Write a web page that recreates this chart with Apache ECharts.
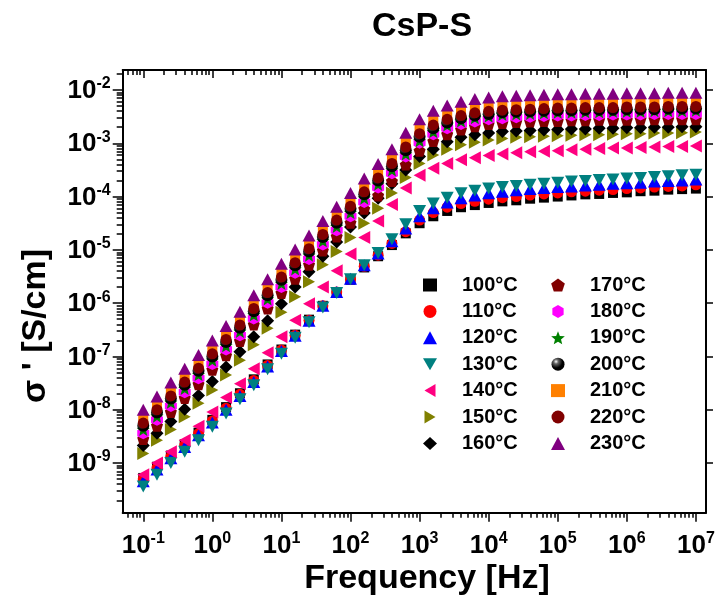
<!DOCTYPE html>
<html>
<head>
<meta charset="utf-8">
<script src="https://cdn.jsdelivr.net/npm/echarts@6/dist/echarts.min.js"></script>
<style>html,body{margin:0;padding:0;background:#fff}#chart{width:715px;height:602px}</style>
</head>
<body>
<div id="chart"></div>
<script>
// ---- data ----
const frequencyHz = [0.1, 0.158, 0.251, 0.398, 0.631, 1, 1.58, 2.51, 3.98, 6.31, 10, 15.8, 25.1, 39.8, 63.1, 100, 158, 251, 398, 631, 1000, 1580, 2510, 3980, 6310, 10000, 15800, 25100, 39800, 63100, 100000, 158000, 251000, 398000, 631000, 1000000, 1580000, 2510000, 3980000, 6310000, 10000000];
const temperatures = ['100°C','110°C','120°C','130°C','140°C','150°C','160°C','170°C','180°C','190°C','200°C','210°C','220°C','230°C'];
const sigma100 = [5.25e-10, 8.51e-10, 1.38e-9, 2.24e-9, 3.72e-9, 6.46e-9, 1.12e-8, 2.04e-8, 3.72e-8, 7.08e-8, 1.35e-7, 2.57e-7, 4.90e-7, 8.91e-7, 1.58e-6, 2.75e-6, 4.68e-6, 7.59e-6, 1.23e-5, 2.04e-5, 3.16e-5, 4.27e-5, 5.37e-5, 6.31e-5, 6.92e-5, 7.59e-5, 8.13e-5, 8.51e-5, 9.12e-5, 9.55e-5, 1.00e-4, 1.05e-4, 1.10e-4, 1.12e-4, 1.17e-4, 1.20e-4, 1.26e-4, 1.29e-4, 1.35e-4, 1.38e-4, 1.41e-4];
const sigma110 = [5.01e-10, 8.13e-10, 1.32e-9, 2.14e-9, 3.55e-9, 6.17e-9, 1.07e-8, 1.95e-8, 3.55e-8, 6.76e-8, 1.32e-7, 2.51e-7, 4.79e-7, 8.91e-7, 1.62e-6, 2.82e-6, 4.90e-6, 7.94e-6, 1.32e-5, 2.19e-5, 3.63e-5, 5.01e-5, 6.31e-5, 7.41e-5, 8.13e-5, 8.91e-5, 9.55e-5, 1.00e-4, 1.07e-4, 1.12e-4, 1.17e-4, 1.23e-4, 1.26e-4, 1.32e-4, 1.35e-4, 1.41e-4, 1.45e-4, 1.51e-4, 1.55e-4, 1.58e-4, 1.66e-4];
const sigma120 = [4.57e-10, 7.59e-10, 1.23e-9, 2.00e-9, 3.31e-9, 5.75e-9, 1.00e-8, 1.82e-8, 3.31e-8, 6.46e-8, 1.26e-7, 2.45e-7, 4.68e-7, 8.91e-7, 1.62e-6, 2.88e-6, 5.13e-6, 8.51e-6, 1.45e-5, 2.51e-5, 4.27e-5, 6.03e-5, 7.76e-5, 9.33e-5, 1.05e-4, 1.15e-4, 1.23e-4, 1.32e-4, 1.38e-4, 1.45e-4, 1.51e-4, 1.55e-4, 1.62e-4, 1.66e-4, 1.74e-4, 1.78e-4, 1.82e-4, 1.91e-4, 1.95e-4, 2.00e-4, 2.09e-4];
const sigma130 = [3.63e-10, 6.03e-10, 1.00e-9, 1.62e-9, 2.69e-9, 4.79e-9, 8.51e-9, 1.58e-8, 2.88e-8, 5.75e-8, 1.12e-7, 2.24e-7, 4.37e-7, 8.32e-7, 1.55e-6, 2.82e-6, 5.13e-6, 8.71e-6, 1.58e-5, 3.02e-5, 5.37e-5, 7.41e-5, 9.55e-5, 1.15e-4, 1.29e-4, 1.41e-4, 1.51e-4, 1.58e-4, 1.66e-4, 1.74e-4, 1.82e-4, 1.91e-4, 1.95e-4, 2.04e-4, 2.09e-4, 2.19e-4, 2.24e-4, 2.34e-4, 2.40e-4, 2.51e-4, 2.57e-4];
const sigma140 = [6.03e-10, 1.00e-9, 1.62e-9, 2.69e-9, 4.90e-9, 9.12e-9, 1.70e-8, 3.09e-8, 5.89e-8, 1.17e-7, 2.34e-7, 4.79e-7, 9.77e-7, 2.00e-6, 4.07e-6, 8.32e-6, 1.70e-5, 3.47e-5, 7.08e-5, 1.45e-4, 2.51e-4, 3.39e-4, 4.17e-4, 4.90e-4, 5.37e-4, 5.89e-4, 6.31e-4, 6.61e-4, 6.92e-4, 7.08e-4, 7.24e-4, 7.59e-4, 7.76e-4, 7.94e-4, 8.13e-4, 8.13e-4, 8.32e-4, 8.51e-4, 8.71e-4, 8.71e-4, 8.91e-4];
const sigma150 = [1.51e-9, 2.69e-9, 4.27e-9, 7.41e-9, 1.32e-8, 2.34e-8, 4.47e-8, 8.51e-8, 1.66e-7, 3.39e-7, 6.76e-7, 1.32e-6, 2.51e-6, 5.25e-6, 9.33e-6, 1.70e-5, 3.16e-5, 6.03e-5, 1.17e-4, 2.29e-4, 4.17e-4, 6.03e-4, 7.76e-4, 9.33e-4, 1.05e-3, 1.15e-3, 1.23e-3, 1.29e-3, 1.32e-3, 1.35e-3, 1.38e-3, 1.41e-3, 1.45e-3, 1.45e-3, 1.48e-3, 1.51e-3, 1.51e-3, 1.55e-3, 1.55e-3, 1.58e-3, 1.62e-3];
const sigma160 = [2.14e-9, 3.63e-9, 6.03e-9, 1.02e-8, 1.86e-8, 3.39e-8, 6.31e-8, 1.23e-7, 2.34e-7, 4.68e-7, 9.77e-7, 2.00e-6, 3.89e-6, 7.59e-6, 1.41e-5, 2.69e-5, 4.90e-5, 9.33e-5, 1.74e-4, 3.16e-4, 5.62e-4, 7.76e-4, 1.07e-3, 1.29e-3, 1.45e-3, 1.55e-3, 1.66e-3, 1.70e-3, 1.74e-3, 1.78e-3, 1.82e-3, 1.86e-3, 1.86e-3, 1.91e-3, 1.91e-3, 1.95e-3, 1.95e-3, 2.00e-3, 2.00e-3, 2.04e-3, 2.04e-3];
const sigma170 = [2.82e-9, 5.01e-9, 9.12e-9, 1.66e-8, 3.02e-8, 5.62e-8, 1.05e-7, 1.95e-7, 3.98e-7, 7.94e-7, 1.55e-6, 2.88e-6, 5.25e-6, 9.77e-6, 1.78e-5, 3.24e-5, 5.89e-5, 1.05e-4, 1.95e-4, 3.98e-4, 7.24e-4, 1.10e-3, 1.48e-3, 1.82e-3, 2.09e-3, 2.29e-3, 2.40e-3, 2.51e-3, 2.57e-3, 2.63e-3, 2.63e-3, 2.69e-3, 2.69e-3, 2.75e-3, 2.75e-3, 2.75e-3, 2.82e-3, 2.82e-3, 2.82e-3, 2.82e-3, 2.82e-3];
const sigma180 = [3.63e-9, 6.46e-9, 1.17e-8, 2.14e-8, 3.89e-8, 7.24e-8, 1.35e-7, 2.51e-7, 5.13e-7, 1.02e-6, 2.00e-6, 3.72e-6, 6.76e-6, 1.26e-5, 2.34e-5, 4.27e-5, 7.94e-5, 1.48e-4, 2.75e-4, 5.62e-4, 1.02e-3, 1.48e-3, 1.91e-3, 2.29e-3, 2.57e-3, 2.82e-3, 2.95e-3, 3.09e-3, 3.16e-3, 3.24e-3, 3.31e-3, 3.31e-3, 3.39e-3, 3.39e-3, 3.47e-3, 3.47e-3, 3.47e-3, 3.55e-3, 3.55e-3, 3.55e-3, 3.55e-3];
const sigma190 = [4.27e-9, 7.59e-9, 1.38e-8, 2.51e-8, 4.57e-8, 8.51e-8, 1.58e-7, 2.95e-7, 6.03e-7, 1.20e-6, 2.34e-6, 4.37e-6, 7.94e-6, 1.48e-5, 2.75e-5, 5.01e-5, 9.33e-5, 1.70e-4, 3.16e-4, 6.31e-4, 1.12e-3, 1.66e-3, 2.19e-3, 2.63e-3, 3.02e-3, 3.24e-3, 3.47e-3, 3.55e-3, 3.63e-3, 3.72e-3, 3.80e-3, 3.80e-3, 3.89e-3, 3.89e-3, 3.98e-3, 3.98e-3, 3.98e-3, 4.07e-3, 4.07e-3, 4.07e-3, 4.17e-3];
const sigma200 = [5.01e-9, 8.91e-9, 1.62e-8, 2.95e-8, 5.37e-8, 1.00e-7, 1.86e-7, 3.47e-7, 7.08e-7, 1.41e-6, 2.75e-6, 5.13e-6, 9.33e-6, 1.74e-5, 3.24e-5, 5.89e-5, 1.10e-4, 2.00e-4, 3.72e-4, 7.41e-4, 1.32e-3, 1.91e-3, 2.45e-3, 2.95e-3, 3.31e-3, 3.55e-3, 3.80e-3, 3.89e-3, 3.98e-3, 4.07e-3, 4.17e-3, 4.17e-3, 4.27e-3, 4.27e-3, 4.27e-3, 4.37e-3, 4.37e-3, 4.37e-3, 4.47e-3, 4.47e-3, 4.47e-3];
const sigma210 = [6.76e-9, 1.20e-8, 2.19e-8, 3.98e-8, 7.24e-8, 1.35e-7, 2.51e-7, 4.68e-7, 9.55e-7, 1.91e-6, 3.72e-6, 6.92e-6, 1.26e-5, 2.34e-5, 4.37e-5, 7.94e-5, 1.48e-4, 2.75e-4, 5.13e-4, 1.02e-3, 1.82e-3, 2.69e-3, 3.47e-3, 4.07e-3, 4.57e-3, 4.90e-3, 5.13e-3, 5.25e-3, 5.37e-3, 5.50e-3, 5.62e-3, 5.62e-3, 5.75e-3, 5.75e-3, 5.75e-3, 5.89e-3, 5.89e-3, 5.89e-3, 6.03e-3, 6.03e-3, 6.03e-3];
const sigma220 = [5.62e-9, 1.00e-8, 1.82e-8, 3.31e-8, 6.03e-8, 1.12e-7, 2.09e-7, 3.89e-7, 7.94e-7, 1.58e-6, 3.09e-6, 5.75e-6, 1.05e-5, 1.95e-5, 3.63e-5, 6.61e-5, 1.23e-4, 2.24e-4, 4.17e-4, 8.51e-4, 1.51e-3, 2.19e-3, 2.82e-3, 3.31e-3, 3.72e-3, 3.98e-3, 4.17e-3, 4.27e-3, 4.37e-3, 4.47e-3, 4.57e-3, 4.57e-3, 4.68e-3, 4.68e-3, 4.68e-3, 4.79e-3, 4.79e-3, 4.79e-3, 4.90e-3, 4.90e-3, 4.90e-3];
const sigma230 = [1.00e-8, 1.78e-8, 3.24e-8, 5.89e-8, 1.07e-7, 2.00e-7, 3.72e-7, 6.92e-7, 1.41e-6, 2.82e-6, 5.50e-6, 1.02e-5, 1.86e-5, 3.47e-5, 6.46e-5, 1.17e-4, 2.19e-4, 4.07e-4, 7.76e-4, 1.58e-3, 2.82e-3, 4.07e-3, 5.13e-3, 6.03e-3, 6.76e-3, 7.24e-3, 7.59e-3, 7.76e-3, 7.94e-3, 8.13e-3, 8.32e-3, 8.32e-3, 8.51e-3, 8.51e-3, 8.51e-3, 8.71e-3, 8.71e-3, 8.71e-3, 8.91e-3, 8.91e-3, 8.91e-3];
const xTickValues = [0.1, 1, 10, 100, 1e3, 1e4, 1e5, 1e6, 1e7];
const yTickValues = [1e-9, 1e-8, 1e-7, 1e-6, 1e-5, 1e-4, 1e-3, 1e-2];
const chartTitle = 'CsP-S';
const xAxisTitle = 'Frequency [Hz]';
const yAxisTitle = "σ ' [S/cm]";

// ---- presentation ----
const FONT = '"Liberation Sans", Arial, sans-serif';
const X_MIN = 0.0504, X_MAX = 1.40e7, Y_MIN = 1.17e-10, Y_MAX = 2.37e-2;

function minorTicks(lo, hi) {
  const out = [];
  for (let n = Math.floor(Math.log10(lo)); n <= Math.ceil(Math.log10(hi)); n++) {
    for (let m = 2; m <= 9; m++) {
      const v = Number((m * Math.pow(10, n)).toPrecision(3));
      if (v > lo && v < hi) out.push(v);
    }
  }
  return out;
}
const xMinor = minorTicks(X_MIN, X_MAX);
const yMinor = minorTicks(Y_MIN, Y_MAX);

const sup = v => '{b|10}{s|' + Math.round(Math.log10(v)) + '}';
const rich = {
  b: {fontFamily: FONT, fontWeight: 'bold', fontSize: 26, color: '#000', lineHeight: 28, verticalAlign: 'bottom'},
  s: {fontFamily: FONT, fontWeight: 'bold', fontSize: 16, color: '#000', lineHeight: 16, verticalAlign: 'top'}
};
const lineStyle = {color: '#000', width: 2};

function axis(kind, position, ticks, len, inside, showLabel, showLine) {
  const a = {
    type: 'log', logBase: 10, position: position,
    min: kind === 'x' ? X_MIN : Y_MIN, max: kind === 'x' ? X_MAX : Y_MAX,
    axisLine: {show: showLine, onZero: false, lineStyle: lineStyle},
    axisTick: {show: true, inside: inside, length: len, customValues: ticks, lineStyle: {color: '#000', width: 1.5}},
    minorTick: {show: false}, splitLine: {show: false},
    axisLabel: {show: showLabel}
  };
  if (showLabel) {
    a.axisLabel = {show: true, customValues: ticks, formatter: sup, rich: rich, margin: kind === 'x' ? 18 : 12};
  }
  return a;
}

const seriesStyle = [
  {symbol: 'rect', size: 10, color: '#000000'},
  {symbol: 'circle', size: 11, color: '#ff0000'},
  {symbol: 'triangle', size: [13, 12], color: '#0000ff'},
  {symbol: 'path://M0,0L20,0L10,17Z', size: [13, 12], color: '#008080'},
  {symbol: 'path://M0,10L17,0L17,20Z', size: [12, 13], color: '#ff0080'},
  {symbol: 'path://M0,0L17,10L0,20Z', size: [12, 13], color: '#808000'},
  {symbol: 'diamond', size: [13, 13], color: '#000000'},
  {symbol: 'path://M50,0L97.6,34.5L79.4,90.5L20.6,90.5L2.4,34.5Z', size: 12, color: '#800000'},
  {symbol: 'path://M50,0L93.3,25L93.3,75L50,100L6.7,75L6.7,25Z', size: 12, color: '#ff00ff'},
  {symbol: 'path://M50,0L62.9,32.2L97.6,34.5L70.9,56.8L79.4,90.5L50,72L20.6,90.5L29.1,56.8L2.4,34.5L37.1,32.2Z', size: 13, color: '#008000'},
  {symbol: 'circle', size: 12, color: new echarts.graphic.RadialGradient(0.35, 0.3, 0.7, [{offset: 0, color: '#ffffff'}, {offset: 0.25, color: '#666666'}, {offset: 0.7, color: '#000000'}, {offset: 1, color: '#000000'}])},
  {symbol: 'rect', size: 10, color: '#ff8000'},
  {symbol: 'circle', size: 11, color: '#800000'},
  {symbol: 'triangle', size: [13, 12], color: '#800080'}
];
const sigmaSets = [sigma100, sigma110, sigma120, sigma130, sigma140, sigma150, sigma160, sigma170, sigma180, sigma190, sigma200, sigma210, sigma220, sigma230];

const series = temperatures.map((name, i) => ({
  type: 'scatter', name: name, xAxisIndex: 0, yAxisIndex: 0,
  data: frequencyHz.map((f, k) => [f, sigmaSets[i][k]]),
  symbol: seriesStyle[i].symbol, symbolSize: seriesStyle[i].size,
  itemStyle: {color: seriesStyle[i].color, opacity: 1},
  emphasis: {disabled: true}, clip: false
}));

const legendCommon = {
  orient: 'vertical', top: 275, itemWidth: 14, itemHeight: 13, itemGap: 6.4, padding: 0,
  selectedMode: false,
  textStyle: {fontFamily: FONT, fontWeight: 'bold', fontSize: 20, color: '#000', lineHeight: 20, padding: [0, 0, 0, 20]}
};

const option = {
  animation: false,
  backgroundColor: '#ffffff',
  grid: {left: 122.7, right: 9, top: 70, bottom: 89.3, containLabel: false, outerBoundsMode: 'none'},
  xAxis: [
    axis('x', 'bottom', xTickValues, 9, false, true, true),
    axis('x', 'bottom', xMinor, 5, false, false, false),
    axis('x', 'top', xTickValues, 8, true, false, true),
    axis('x', 'top', xMinor, 5, true, false, false)
  ],
  yAxis: [
    axis('y', 'left', yTickValues, 10, false, true, true),
    axis('y', 'left', yMinor, 6, false, false, false),
    axis('y', 'right', yTickValues, 7, false, false, true)
  ],
  legend: [
    Object.assign({}, legendCommon, {left: 423, data: temperatures.slice(0, 7)}),
    Object.assign({}, legendCommon, {left: 551, data: temperatures.slice(7)})
  ],
  graphic: [
    {type: 'text', x: 422, y: 27, style: {text: chartTitle, font: 'bold 34px ' + FONT, fill: '#000', align: 'center', verticalAlign: 'middle'}},
    {type: 'text', x: 427, y: 579, style: {text: xAxisTitle, font: 'bold 34px ' + FONT, fill: '#000', align: 'center', verticalAlign: 'middle'}},
    {type: 'text', x: 36, y: 326, rotation: Math.PI / 2, style: {text: yAxisTitle, font: 'bold 34px ' + FONT, fill: '#000', align: 'center', verticalAlign: 'middle'}}
  ],
  series: series
};

const chart = echarts.init(document.getElementById('chart'), null, {renderer: 'canvas'});
chart.setOption(option);
</script>
</body>
</html>
